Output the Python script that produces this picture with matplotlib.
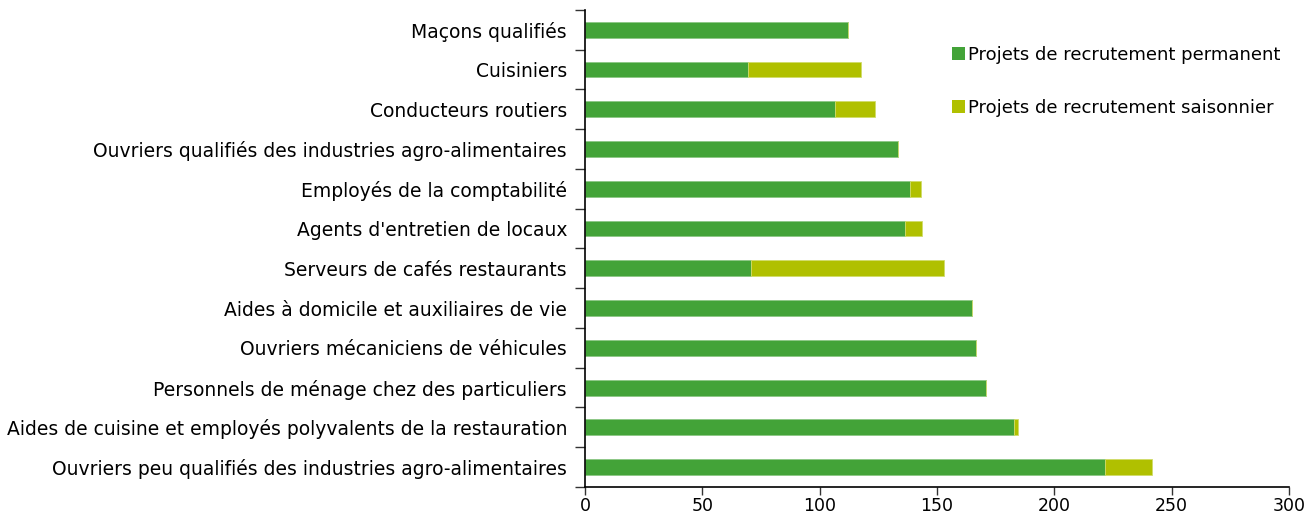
import matplotlib
matplotlib.use("Agg")
import matplotlib.pyplot as plt
import numpy as np

categories = [
    "Maçons qualifiés",
    "Cuisiniers",
    "Conducteurs routiers",
    "Ouvriers qualifiés des industries agro-alimentaires",
    "Employés de la comptabilité",
    "Agents d'entretien de locaux",
    "Serveurs de cafés restaurants",
    "Aides à domicile et auxiliaires de vie",
    "Ouvriers mécaniciens de véhicules",
    "Personnels de ménage chez des particuliers",
    "Aides de cuisine et employés polyvalents de la restauration",
    "Ouvriers peu qualifiés des industries agro-alimentaires",
]
permanent = [112, 69.5, 106.5, 133.5, 138.5, 136.5, 70.5, 165, 166.5, 171, 183, 221.5]
saisonnier = [0, 48, 17, 0, 4.5, 7, 82.5, 0, 0, 0, 1.3, 20]
xticks = [0, 50, 100, 150, 200, 250, 300]

green = "#43A338"
yellow = "#B0C000"

plt.rcParams['font.family'] = ['DejaVu Sans']
fig = plt.figure(figsize=(13.08, 5.17), dpi=100)
ax = fig.add_axes([0.4473, 0.058, 0.5382, 0.923])

y = np.arange(len(categories))
ax.barh(y, permanent, height=0.4, color=green, edgecolor="#8CC785", linewidth=0.6,
        label="Projets de recrutement permanent")
ax.barh(y, saisonnier, left=permanent, height=0.4, color=yellow, edgecolor="#D0DC6A",
        linewidth=0.6, label="Projets de recrutement saisonnier")

ax.set_ylim(len(categories) - 0.5, -0.5)
ax.set_xlim(0, 300)
ax.set_xticks(xticks)
ax.set_xticklabels([str(v) for v in xticks], fontsize=12.5)
ax.set_yticks(y)
ax.set_yticklabels(categories, fontsize=13.5)
ax.tick_params(axis='y', which='major', length=0, pad=13)
ax.set_yticks(np.arange(-0.5, len(categories), 1), minor=True)
ax.tick_params(axis='y', which='minor', length=7, width=1, color="#333333")
ax.tick_params(axis='x', length=6, width=1, color="#333333", pad=1.5)

for s in ["top", "right"]:
    ax.spines[s].set_visible(False)
for s in ["left", "bottom"]:
    ax.spines[s].set_linewidth(1.2)
    ax.spines[s].set_color("black")

leg = ax.legend(loc="upper left", bbox_to_anchor=(0.511, 0.94), frameon=False,
                fontsize=13, handlelength=0.7, handleheight=0.7, handletextpad=0.2,
                labelspacing=1.95, borderaxespad=0)
for h in leg.legend_handles:
    h.set_edgecolor("none")

fig.savefig("out.png", dpi=100)
